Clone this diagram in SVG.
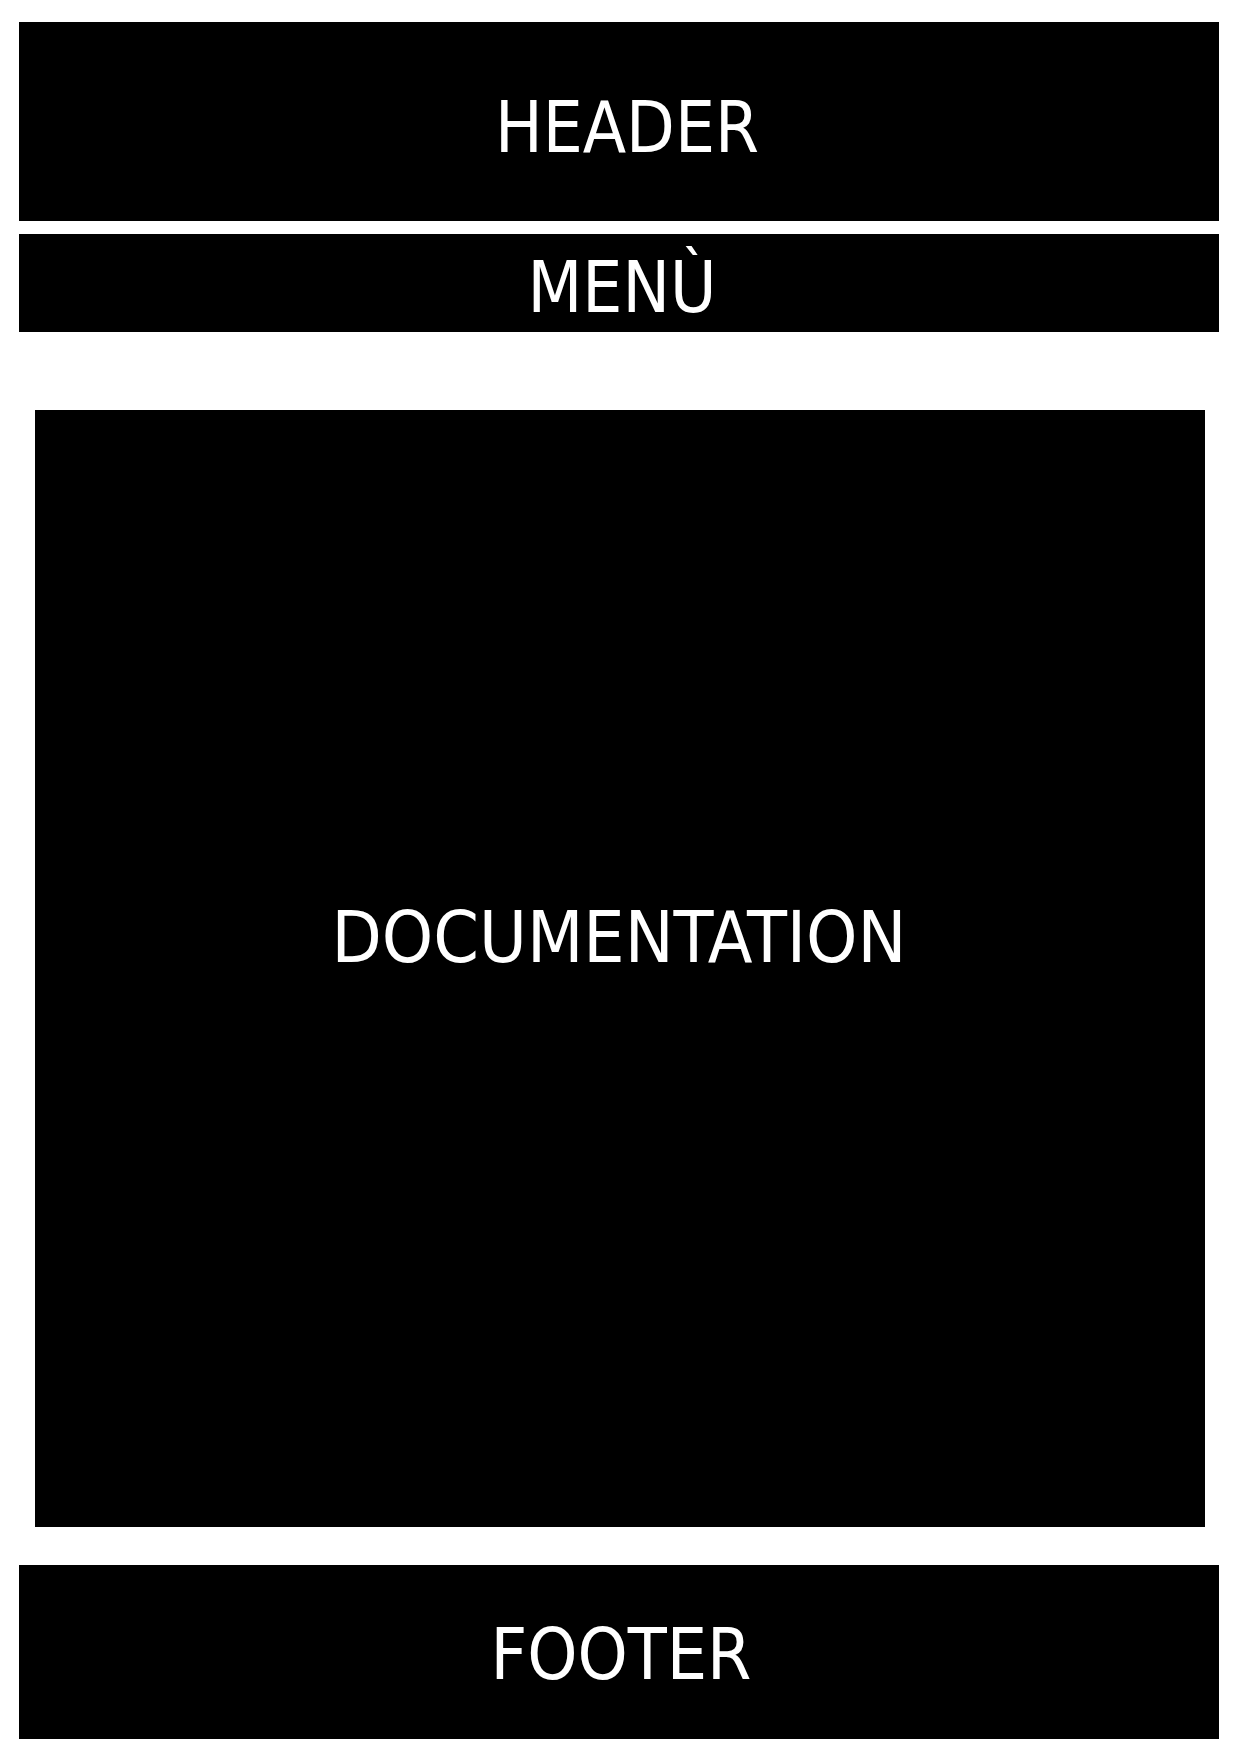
<svg xmlns="http://www.w3.org/2000/svg" width="1240" height="1754" viewBox="0 0 1240 1754">
<style>
.box{fill:#000}
.lbl{fill:#fff;font-family:"DejaVu Sans Condensed","DejaVu Sans",sans-serif;font-size:72px;text-anchor:middle}
</style>
<rect width="1240" height="1754" fill="#fff"/>
<g id="header"><rect class="box" x="19" y="22" width="1200" height="199"/><text class="lbl" x="627" y="152" textLength="264" lengthAdjust="spacingAndGlyphs">HEADER</text></g>
<g id="menu"><rect class="box" x="19" y="234" width="1200" height="98"/><text class="lbl" x="622" y="312" textLength="189" lengthAdjust="spacingAndGlyphs">MENÙ</text></g>
<g id="documentation"><rect class="box" x="35" y="410" width="1170" height="1117"/><text class="lbl" x="619" y="962" textLength="575" lengthAdjust="spacingAndGlyphs">DOCUMENTATION</text></g>
<g id="footer"><rect class="box" x="19" y="1565" width="1200" height="174"/><text class="lbl" x="621" y="1679" textLength="261" lengthAdjust="spacingAndGlyphs">FOOTER</text></g>
<g id="connectors"/>
</svg>
